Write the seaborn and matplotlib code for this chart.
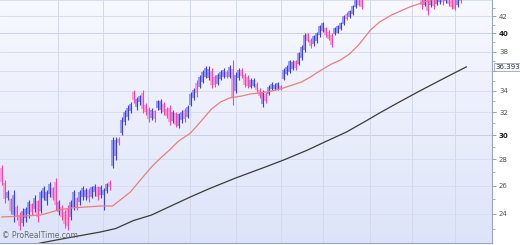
import numpy as np
import pandas as pd
import matplotlib
matplotlib.use("Agg")
import matplotlib.pyplot as plt
from matplotlib.colors import LinearSegmentedColormap
from matplotlib.ticker import FixedLocator, NullFormatter
import seaborn as sns

# ---------------- data ----------------
opens = [27.3, 26.2, 25.1, 25.0, 23.9, 24.5, 23.9, 23.4, 23.7, 24.0,
         24.7, 24.3, 24.9, 24.2, 25.1, 24.9, 25.4, 25.8, 26.3, 24.1,
         24.5, 24.1, 24.3, 23.8, 24.5, 25.1, 24.8, 25.2, 25.2, 25.7,
         25.2, 25.5, 25.9, 25.3, 25.3, 25.6, 26.3, 27.5, 28.3, 29.7,
         30.2, 31.1, 31.6, 32.1, 33.9, 32.5, 32.9, 33.8, 32.7, 32.3,
         31.5, 32.1, 32.4, 32.2, 32.8, 32.3, 32.4, 31.2, 31.9, 30.8,
         31.3, 32.2, 31.6, 32.7, 33.3, 34.8, 34.4, 34.9, 35.4, 35.3,
         36.0, 35.4, 34.7, 35.2, 35.4, 35.9, 35.4, 36.2, 34.0, 35.3,
         36.1, 35.6, 35.4, 34.4, 34.5, 34.7, 34.1, 32.8, 33.7, 33.7,
         34.2, 34.2, 34.2, 34.5, 35.2, 35.7, 35.9, 36.2, 37.0, 36.7,
         37.3, 38.2, 39.9, 39.3, 38.8, 39.1, 39.8, 40.3, 40.6, 40.2,
         39.8, 39.9, 40.1, 40.5, 41.1, 42.3, 41.9, 42.3, 43.1, 44.3,
         44.3, 44.3, 44.8, 45.2, 45.9, 45.3, 46.0, 46.6, 45.8, 46.5,
         45.7, 44.9, 45.5, 46.1, 45.2, 45.7, 44.7, 45.2, 44.5, 45.0,
         44.6, 43.4, 44.4, 43.3, 44.6, 43.5, 43.7, 44.9, 43.8, 44.7,
         44.5, 44.4, 43.3, 44.7]
highs = [27.56, 26.41, 25.68, 25.1, 25.68, 24.61, 24.1, 24.4, 24.5, 24.96,
         24.75, 25.32, 24.96, 25.68, 25.97, 25.68, 26.26, 25.9, 26.56, 24.96,
         24.61, 24.26, 24.61, 24.96, 25.68, 25.18, 25.68, 25.97, 25.82, 25.82,
         25.97, 26.11, 25.97, 26.04, 25.82, 26.19, 26.41, 29.83, 29.83, 29.83,
         31.57, 32.2, 32.66, 32.94, 34.08, 33.41, 33.6, 34.08, 32.85, 32.48,
         32.39, 32.2, 33.13, 33.22, 32.94, 32.48, 32.66, 32.2, 32.02, 31.93,
         32.2, 32.39, 32.66, 33.89, 34.27, 35.06, 35.56, 36.06, 36.48, 36.48,
         36.27, 35.56, 35.76, 36.06, 36.27, 36.06, 36.58, 37.1, 35.86, 36.27,
         36.27, 35.76, 35.56, 35.26, 35.26, 34.86, 34.27, 34.08, 33.89, 34.56,
         34.86, 34.76, 34.86, 34.56, 36.27, 36.58, 37.1, 37.1, 37.1, 37.95,
         38.71, 40.05, 40.05, 39.48, 39.82, 40.16, 40.96, 41.31, 40.73, 40.39,
         40.05, 40.73, 40.96, 41.31, 42.14, 42.5, 42.74, 43.35, 44.2, 44.6,
         44.5, 45.2, 45.6, 46.0, 46.1, 46.3, 46.8, 46.9, 46.7, 46.7,
         45.9, 45.8, 46.3, 46.3, 46.0, 45.9, 45.5, 45.4, 45.3, 45.2,
         44.9, 44.8, 44.7, 44.8, 44.9, 44.9, 45.0, 45.1, 45.0, 44.9,
         44.7, 44.6, 44.8, 44.9]
lows = [26.04, 24.75, 24.96, 23.99, 23.46, 23.59, 22.93, 23.2, 23.46, 23.7,
        23.92, 24.12, 23.46, 24.05, 24.96, 24.61, 25.18, 24.96, 24.26, 23.92,
        23.59, 23.06, 22.93, 23.59, 24.26, 24.26, 24.61, 24.96, 24.96, 24.82,
        25.11, 25.25, 24.96, 25.11, 24.26, 25.46, 25.68, 27.33, 27.95, 29.16,
        30.0, 30.86, 31.3, 31.93, 32.85, 32.2, 32.66, 31.93, 31.75, 31.12,
        31.3, 31.12, 32.2, 31.93, 31.75, 31.48, 30.86, 31.04, 30.69, 30.6,
        31.04, 31.12, 31.48, 32.57, 33.13, 33.41, 34.27, 34.76, 35.26, 35.06,
        34.27, 34.37, 34.56, 35.06, 35.26, 35.26, 35.26, 32.66, 33.79, 35.06,
        35.26, 34.37, 34.27, 34.27, 34.37, 33.89, 33.32, 32.48, 32.85, 33.6,
        34.08, 34.08, 34.08, 34.08, 35.06, 35.56, 35.76, 36.06, 36.06, 36.58,
        37.1, 37.95, 39.04, 38.38, 38.6, 38.93, 39.6, 40.16, 39.6, 39.26,
        38.49, 39.82, 40.05, 40.39, 40.96, 41.55, 41.78, 42.14, 42.98, 43.23,
        42.86, 44.2, 44.6, 45.0, 45.0, 45.1, 45.8, 45.6, 45.6, 45.4,
        44.8, 44.7, 45.3, 45.2, 44.9, 44.7, 44.5, 44.3, 44.3, 44.2,
        42.9, 43.2, 42.2, 43.1, 42.9, 43.3, 43.5, 43.4, 43.6, 43.2,
        42.9, 42.7, 43.1, 43.6]
closes = [26.3, 25.0, 25.5, 24.2, 25.3, 23.8, 23.2, 24.2, 24.3, 24.8,
          24.1, 25.1, 23.8, 25.5, 25.8, 25.5, 26.1, 25.1, 24.6, 24.8,
          23.8, 23.3, 23.2, 24.8, 25.5, 24.4, 25.5, 25.8, 25.7, 25.1,
          25.9, 26.0, 25.2, 25.9, 25.7, 26.1, 25.9, 29.6, 29.6, 29.3,
          31.3, 32.0, 32.4, 32.8, 33.1, 33.2, 33.5, 32.3, 32.0, 31.4,
          32.2, 31.4, 33.0, 33.0, 32.0, 31.7, 31.1, 32.0, 30.9, 31.8,
          32.0, 31.4, 32.5, 33.7, 34.1, 33.8, 35.4, 35.9, 36.3, 36.2,
          34.6, 34.6, 35.6, 35.9, 36.1, 35.4, 36.4, 33.4, 35.6, 36.1,
          35.5, 34.6, 34.5, 35.1, 35.1, 34.1, 33.5, 33.8, 33.0, 34.4,
          34.7, 34.6, 34.8, 34.2, 36.1, 36.4, 37.0, 36.9, 36.3, 37.8,
          38.5, 39.8, 39.2, 38.6, 39.7, 40.0, 40.8, 41.2, 39.8, 39.4,
          38.7, 40.6, 40.9, 41.2, 42.0, 41.7, 42.6, 43.2, 44.0, 43.4,
          43.1, 45.0, 45.4, 45.8, 45.2, 46.1, 46.6, 45.9, 46.5, 45.6,
          45.0, 45.6, 46.1, 45.4, 45.8, 44.9, 45.3, 44.5, 45.1, 44.4,
          43.3, 44.5, 42.6, 44.6, 43.2, 44.6, 44.8, 43.7, 44.8, 43.5,
          43.1, 42.9, 44.5, 43.9]

red_ma_idx = [0, 7, 13, 19, 23, 33, 37, 40, 43, 46, 50, 53, 56, 59, 63, 66, 70,
              73, 76, 80, 83, 86, 90, 93, 96, 100, 103, 106, 110, 113, 116, 119,
              123, 126, 130, 133, 136, 140, 143, 147, 153]
red_ma_val = [23.79, 23.85, 23.92, 24.26, 24.40, 24.54, 24.54, 25.03, 25.54,
              26.34, 27.41, 28.11, 28.75, 29.49, 30.17, 31.04, 32.29, 32.94,
              33.32, 33.50, 33.70, 33.79, 33.98, 34.18, 34.47, 34.86, 35.36,
              35.96, 36.68, 37.10, 37.74, 38.71, 40.39, 41.31, 42.14, 42.62,
              43.10, 43.60, 43.97, 44.20, 44.40]
black_ma_idx = [10, 13, 22, 33, 38, 44, 50, 55, 63, 69, 78, 88, 94, 102, 107,
                115, 122, 126, 132, 140, 149, 155]
black_ma_val = [21.95, 22.10, 22.42, 22.80, 23.02, 23.55, 23.92, 24.40, 25.18,
                25.75, 26.56, 27.41, 27.95, 28.75, 29.33, 30.26, 31.30, 31.93,
                32.85, 34.08, 35.46, 36.393]
last_value_label = "36.393"

y_major = [24, 26, 28, 30, 32, 34, 36, 38, 40, 42, 44]
y_minor = [23, 25, 27, 29, 31, 33, 35, 37, 39, 41, 43]
bold_ticks = [30, 40]
month_idx = [18.8, 33.8, 48.8, 62.8, 78.2, 93.2, 107.2, 122.8, 136.8, 151.2]

# ---------------- figure ----------------
sns.set_style("white")
plt.rcParams['font.family'] = ['DejaVu Sans']

W, H = 520, 245
fig = plt.figure(figsize=(W / 100, H / 100), dpi=100)
fig.patch.set_facecolor("white")
ax = fig.add_axes([0, 2 / H, 492 / W, 243 / H])

# background gradient
cmap = LinearSegmentedColormap.from_list("bg", ["#dde4f9", "#f8f9ff"])
grad = np.linspace(0, 1, 256).reshape(-1, 1)
ax.imshow(grad, extent=[0, 1, 0, 1], transform=ax.transAxes, aspect="auto",
          cmap=cmap, origin="lower", zorder=0, interpolation="bicubic")

ax.set_yscale("log")
ax.set_ylim(22.10, 43.97)
ax.set_xlim(-0.5, 163.5)
ax.set_autoscale_on(False)

# gridlines
for v in y_major:
    ax.axhline(v, color="#c9d0e3" if v in bold_ticks else "#d8deee", lw=0.7, zorder=1)
for m in month_idx:
    ax.axvline(m, color="#d3d9ea", lw=0.7, zorder=1)

# candles
o = np.array(opens); h = np.array(highs); l = np.array(lows); c = np.array(closes)
idx = np.arange(len(o))
up = c >= o
body_lo = np.minimum(o, c)
body_hi = np.maximum(o, c)
ax.bar(idx[up], body_hi[up] - body_lo[up], bottom=body_lo[up], width=0.8,
       color="#9a9cf4", edgecolor="none", zorder=2)
ax.bar(idx[~up], body_hi[~up] - body_lo[~up], bottom=body_lo[~up], width=0.8,
       color="#f7a2d6", edgecolor="none", zorder=2)
ax.vlines(idx[up], l[up], h[up], color="#3c3ce8", lw=0.8, zorder=3)
ax.vlines(idx[~up], l[~up], h[~up], color="#ff3fae", lw=0.8, zorder=3)

# moving averages
red_df = pd.DataFrame({"x": red_ma_idx, "y": red_ma_val})
blk_df = pd.DataFrame({"x": black_ma_idx, "y": black_ma_val})
sns.lineplot(data=red_df, x="x", y="y", ax=ax, color="#f07c7c", lw=0.9, zorder=4)
sns.lineplot(data=blk_df, x="x", y="y", ax=ax, color="#3a3a3a", lw=0.9, zorder=4)
ax.set_xlabel("")
ax.set_ylabel("")

# axes styling
ax.yaxis.tick_right()
ax.yaxis.set_major_locator(FixedLocator(y_major))
ax.yaxis.set_minor_locator(FixedLocator(y_minor))
ax.yaxis.set_minor_formatter(NullFormatter())
# the 36 label sits under the last-value box in the reference
ax.set_yticklabels(["" if v == 36 else str(v) for v in y_major])
ax.tick_params(axis="y", which="major", labelsize=5, colors="#8a93a8",
               length=3, width=0.6, pad=2, labelcolor="#555555")
ax.tick_params(axis="y", which="minor", colors="#8a93a8", length=2, width=0.5)
for t, v in zip(ax.get_yticklabels(), y_major):
    if v in bold_ticks:
        t.set_fontweight("bold")
        t.set_color("#222222")
ax.set_xticks([])
for s in ["left", "top"]:
    ax.spines[s].set_visible(False)
for s in ["right", "bottom"]:
    ax.spines[s].set_color("#9aa6c0")
    ax.spines[s].set_linewidth(0.8)

# last value box
ax.text(1.006, black_ma_val[-1], last_value_label, transform=ax.get_yaxis_transform(),
        fontsize=5, color="#333333", va="center", ha="left", zorder=6, clip_on=False,
        bbox=dict(boxstyle="square,pad=0.15", fc="#f4f6fc", ec="#8a93a8", lw=0.5))

# watermark
ax.text(0.004, 0.012, "\u00a9 ProRealTime.com", transform=ax.transAxes,
        fontsize=5.5, color="#6a6a6a", ha="left", va="bottom", zorder=6)

fig.savefig("out.png", dpi=100)
